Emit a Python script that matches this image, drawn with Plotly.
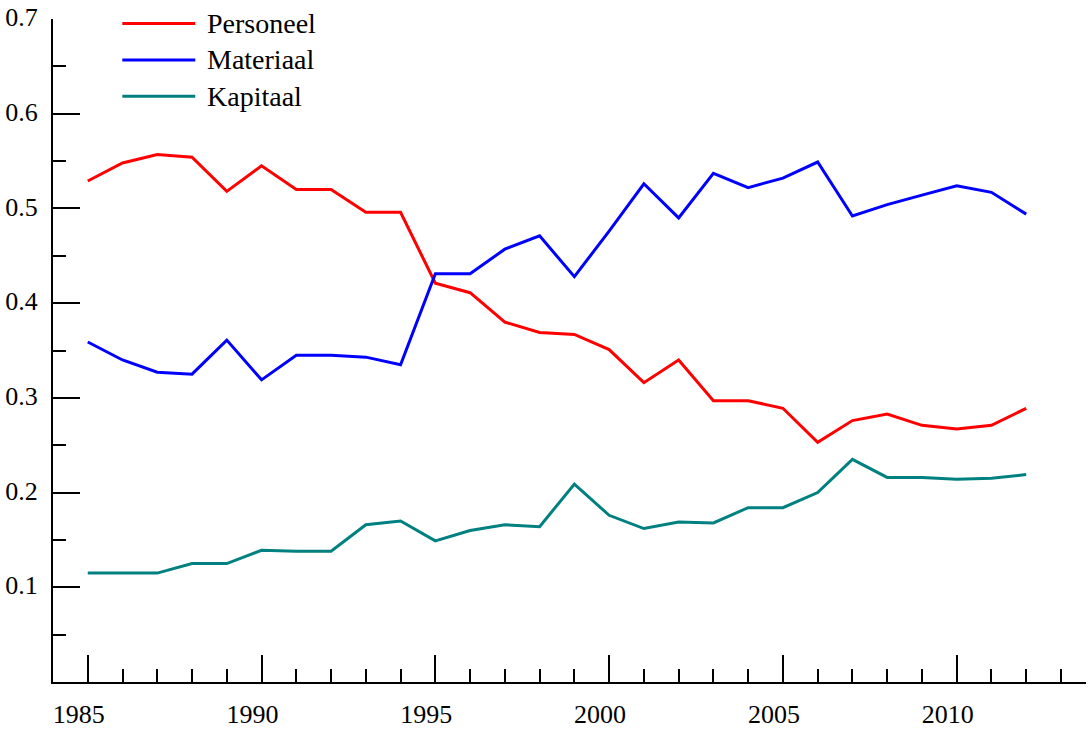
import plotly.graph_objects as go

years = list(range(1985, 2013))
personeel = [0.529, 0.548, 0.557, 0.554, 0.518, 0.545, 0.520, 0.520, 0.496, 0.496,
             0.421, 0.411, 0.380, 0.369, 0.367, 0.351, 0.316, 0.340, 0.297, 0.297,
             0.289, 0.253, 0.276, 0.283, 0.271, 0.267, 0.271, 0.289]
materiaal = [0.359, 0.340, 0.327, 0.325, 0.361, 0.319, 0.345, 0.345, 0.343, 0.335,
             0.431, 0.431, 0.457, 0.471, 0.428, 0.476, 0.526, 0.490, 0.537, 0.522,
             0.532, 0.549, 0.492, 0.504, 0.514, 0.524, 0.517, 0.494]
kapitaal = [0.115, 0.115, 0.115, 0.125, 0.125, 0.139, 0.138, 0.138, 0.166, 0.170,
            0.149, 0.160, 0.166, 0.164, 0.209, 0.176, 0.162, 0.169, 0.168, 0.184,
            0.184, 0.200, 0.235, 0.216, 0.216, 0.214, 0.215, 0.219]

series_names = ["Personeel", "Materiaal", "Kapitaal"]
series_colors = ["#FF0000", "#0000FF", "#008080"]
series_values = [personeel, materiaal, kapitaal]

x_tick_vals = [1985, 1990, 1995, 2000, 2005, 2010]
x_minor_vals = [y for y in range(1986, 2014) if y % 5 != 0]
y_tick_vals = [0.1, 0.2, 0.3, 0.4, 0.5, 0.6, 0.7]
y_tick_text = ["0.1", "0.2", "0.3", "0.4", "0.5", "0.6", "0.7"]
y_minor_vals = [0.05, 0.15, 0.25, 0.35, 0.45, 0.55, 0.65]

FONT = "Liberation Serif, Times New Roman, serif"

fig = go.Figure()
for name, color, vals in zip(series_names, series_colors, series_values):
    fig.add_trace(go.Scatter(x=years, y=vals, mode="lines", name=name,
                             line=dict(color=color, width=3), showlegend=False))

# custom legend (long line samples like the reference)
legend_y = [0.9931, 0.9383, 0.8835]
for name, color, ly in zip(series_names, series_colors, legend_y):
    fig.add_shape(type="line", xref="paper", yref="paper",
                  x0=0.0671, x1=0.1377, y0=ly, y1=ly,
                  line=dict(color=color, width=3))
    fig.add_annotation(xref="paper", yref="paper", x=0.1475, y=ly,
                       xanchor="left", yanchor="middle", text=name, showarrow=False,
                       font=dict(family=FONT, size=28, color="#000000"))

fig.update_layout(
    width=1088, height=731,
    margin=dict(l=53, r=2, t=19, b=43),
    paper_bgcolor="white", plot_bgcolor="white",
    font=dict(family=FONT, size=26, color="#000000"),
    showlegend=False,
)
fig.update_xaxes(
    range=[1984, 2013.72], showgrid=False, zeroline=False,
    showline=True, linecolor="#000000", linewidth=2,
    tickmode="array", tickvals=x_tick_vals, ticktext=[str(v) for v in x_tick_vals],
    ticks="inside", ticklen=27, tickwidth=2, tickcolor="#000000",
    ticklabelstandoff=8, ticklabelshift=-9,
    minor=dict(tickmode="array", tickvals=x_minor_vals, ticks="inside",
               ticklen=13, tickwidth=2, tickcolor="#000000", showgrid=False),
)
fig.update_yaxes(
    range=[0, 0.7], showgrid=False, zeroline=False,
    showline=True, linecolor="#000000", linewidth=2,
    tickmode="array", tickvals=y_tick_vals, ticktext=y_tick_text,
    ticks="inside", ticklen=27, tickwidth=2, tickcolor="#000000",
    ticklabelstandoff=8, ticklabelshift=-2,
    minor=dict(tickmode="array", tickvals=y_minor_vals, ticks="inside",
               ticklen=13, tickwidth=2, tickcolor="#000000", showgrid=False),
)

fig.write_html("out.html")
